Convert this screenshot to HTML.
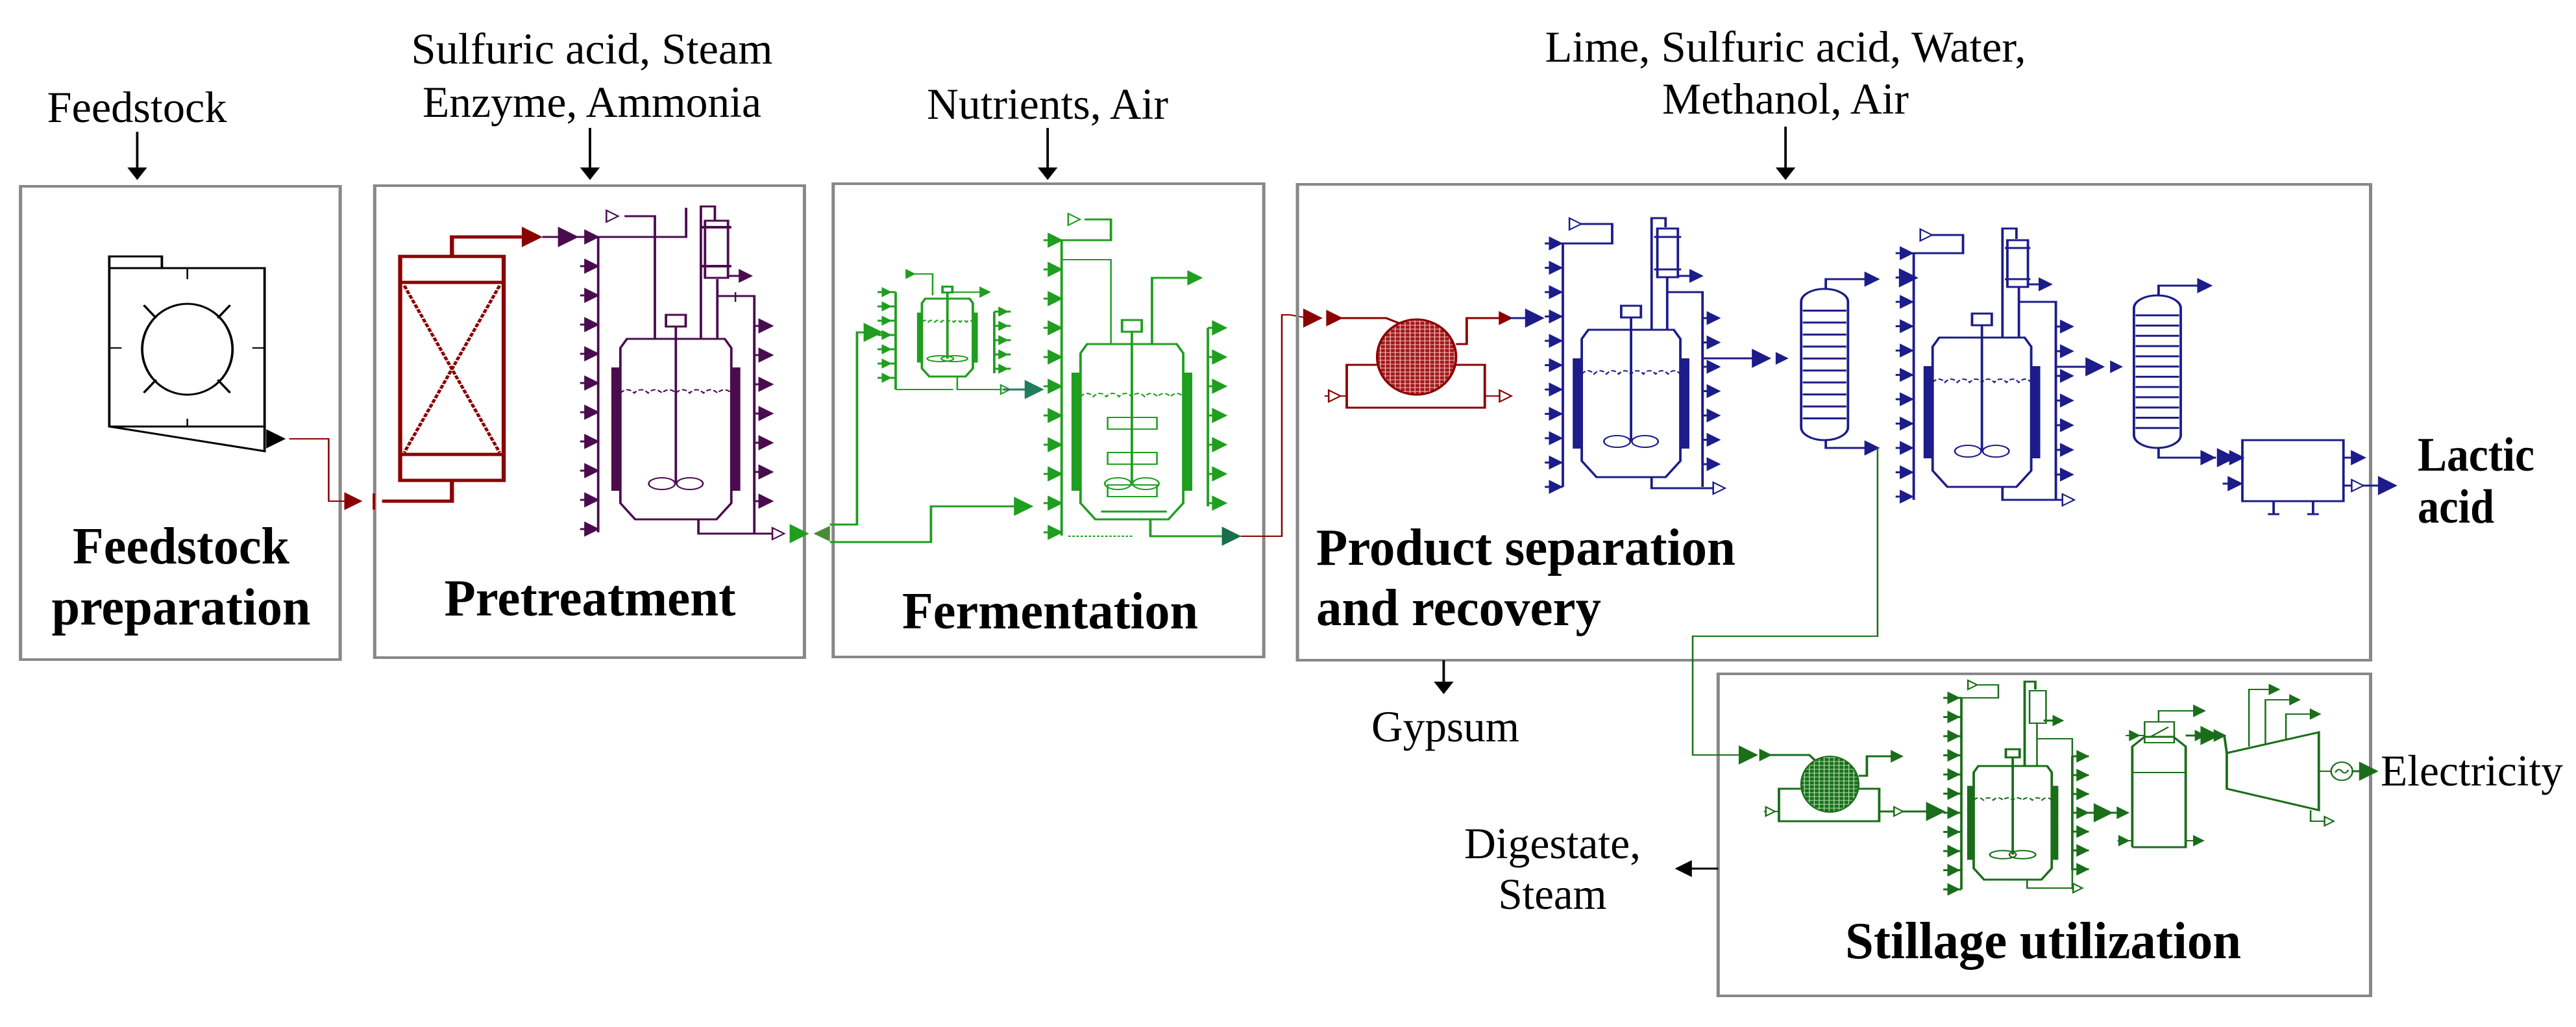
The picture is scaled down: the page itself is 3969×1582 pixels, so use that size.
<!DOCTYPE html>
<html><head><meta charset="utf-8"><style>
html,body{margin:0;padding:0;background:#fff;}
#wrap{position:relative;width:3969px;height:1582px;overflow:hidden;background:#fff;}
svg{position:absolute;left:0;top:0;}
text{font-family:"Liberation Serif",serif;fill:#000;}
.n{font-size:68px;}
.b{font-size:80px;font-weight:bold;}
</style></head><body>
<div id="wrap">
<svg id="g" width="3969" height="1582" viewBox="0 0 3135 1582" preserveAspectRatio="none"></svg>
<svg id="t" width="3969" height="1582" viewBox="0 0 3969 1582">
<text class="n" x="211" y="188" text-anchor="middle" textLength="277" lengthAdjust="spacingAndGlyphs">Feedstock</text>
<text class="n" x="912" y="98" text-anchor="middle" textLength="557" lengthAdjust="spacingAndGlyphs">Sulfuric acid, Steam</text>
<text class="n" x="912" y="180" text-anchor="middle" textLength="522" lengthAdjust="spacingAndGlyphs">Enzyme, Ammonia</text>
<text class="n" x="1614" y="183" text-anchor="middle" textLength="372" lengthAdjust="spacingAndGlyphs">Nutrients, Air</text>
<text class="n" x="2751" y="95" text-anchor="middle" textLength="741" lengthAdjust="spacingAndGlyphs">Lime, Sulfuric acid, Water,</text>
<text class="n" x="2751" y="175" text-anchor="middle" textLength="380" lengthAdjust="spacingAndGlyphs">Methanol, Air</text>
<text class="b" x="279" y="868" text-anchor="middle" textLength="334" lengthAdjust="spacingAndGlyphs">Feedstock</text>
<text class="b" x="279" y="962" text-anchor="middle" textLength="399" lengthAdjust="spacingAndGlyphs">preparation</text>
<text class="b" x="909" y="948" text-anchor="middle" textLength="449" lengthAdjust="spacingAndGlyphs">Pretreatment</text>
<text class="b" x="1618" y="968" text-anchor="middle" textLength="456" lengthAdjust="spacingAndGlyphs">Fermentation</text>
<text class="b" x="2028" y="870" textLength="646" lengthAdjust="spacingAndGlyphs">Product separation</text>
<text class="b" x="2028" y="963" textLength="439" lengthAdjust="spacingAndGlyphs">and recovery</text>
<text class="b" x="3725" y="725" style="font-size:74px" textLength="180" lengthAdjust="spacingAndGlyphs">Lactic</text>
<text class="b" x="3725" y="805" style="font-size:74px" textLength="118" lengthAdjust="spacingAndGlyphs">acid</text>
<text class="n" x="2227" y="1142" text-anchor="middle" textLength="228" lengthAdjust="spacingAndGlyphs">Gypsum</text>
<text class="n" x="2392" y="1322" text-anchor="middle" textLength="272" lengthAdjust="spacingAndGlyphs">Digestate,</text>
<text class="n" x="2392" y="1400" text-anchor="middle" textLength="167" lengthAdjust="spacingAndGlyphs">Steam</text>
<text class="n" x="3668" y="1210" textLength="281" lengthAdjust="spacingAndGlyphs">Electricity</text>
<text class="b" x="3148" y="1476" text-anchor="middle" textLength="610" lengthAdjust="spacingAndGlyphs">Stillage utilization</text>
</svg>
</div>
<script>
var s='';
var R='#8b0000',P='#4b0c4f',G='#1f9e1f',DG='#1a6e1a',B='#1c1c8a',K='#000',GR='#888';
function pl(pts,c,w){s+='<polyline points="'+pts+'" fill="none" stroke="'+c+'" stroke-width="'+(w||3)+'"/>';}
function rc(x,y,w,h,c,sw,f,rx){s+='<rect x="'+x+'" y="'+y+'" width="'+w+'" height="'+h+'" fill="'+(f||'none')+'" stroke="'+c+'" stroke-width="'+(sw||3)+'"'+(rx?' rx="'+rx+'"':'')+'/>';}
function ar(x,y,c,sz,open){sz=sz||12;s+='<path d="M'+x+','+(y-sz)+' L'+(x+sz*1.6)+','+y+' L'+x+','+(y+sz)+' Z" fill="'+(open?'#fff':c)+'" stroke="'+c+'" stroke-width="2"/>';}
function ard(x,y,c,sz){sz=sz||14;s+='<path d="M'+(x-sz)+','+y+' L'+x+','+(y+sz*1.6)+' L'+(x+sz)+','+y+' Z" fill="'+c+'"/>';}
function arl(x,y,c,sz){sz=sz||14;s+='<path d="M'+x+','+(y-sz)+' L'+(x-sz*1.6)+','+y+' L'+x+','+(y+sz)+' Z" fill="'+c+'"/>';}
function ln(x1,y1,x2,y2,c,w){s+='<line x1="'+x1+'" y1="'+y1+'" x2="'+x2+'" y2="'+y2+'" stroke="'+c+'" stroke-width="'+(w||3)+'"/>';}
function colL(x,y1,y2,step,c,sz){ln(x,y1,x,y2,c,3);for(var y=y1;y<=y2+1;y+=step){ln(x-22,y,x,y,c,3);ar(x-16,y,c,sz||9);}}
function colR(x,y1,y2,step,c,sz){ln(x,y1,x,y2,c,3);for(var y=y1;y<=y2+1;y+=step){ln(x,y,x+20,y,c,3);ar(x+6,y,c,sz||9);}}
function vessel(x,y,w,h,c,sc){sc=sc||1;
 s+='<path d="M'+(x+8*sc)+','+y+' H'+(x+w-8*sc)+' L'+(x+w)+','+(y+14*sc)+' V'+(y+h-25*sc)+' L'+(x+w-18*sc)+','+(y+h)+' H'+(x+18*sc)+' L'+x+','+(y+h-25*sc)+' V'+(y+14*sc)+' Z" fill="#fff" stroke="'+c+'" stroke-width="3"/>';
 rc(x-10*sc,y+45*sc,10*sc,h-90*sc,c,2,c);rc(x+w,y+45*sc,10*sc,h-90*sc,c,2,c);
 var cx=x+w/2;ln(cx,y-35*sc,cx,y+h-55*sc,c,3);rc(cx-12*sc,y-37*sc,24*sc,18*sc,c,3,'#fff');
 var wy=y+h*0.3;var d='M'+x+','+wy;for(var i=0;i<8;i++){d+=' q'+(w/16)+','+(-10*sc)+' '+(w/8)+',0';}s+='<path d="'+d+'" fill="none" stroke="'+c+'" stroke-width="2" stroke-dasharray="6 3"/>';
 s+='<ellipse cx="'+(cx-17*sc)+'" cy="'+(y+h-55*sc)+'" rx="16" ry="'+(9*sc)+'" fill="none" stroke="'+c+'" stroke-width="2"/><ellipse cx="'+(cx+17*sc)+'" cy="'+(y+h-55*sc)+'" rx="16" ry="'+(9*sc)+'" fill="none" stroke="'+c+'" stroke-width="2"/>';
}
function column(x,y,w,h,c,n){s+='<rect x="'+x+'" y="'+y+'" width="'+w+'" height="'+h+'" rx="'+(w/2)+'" ry="20" fill="#fff" stroke="'+c+'" stroke-width="3"/>';for(var i=1;i<n;i++){var yy=y+15+i*(h-30)/n;ln(x+2,yy,x+w-2,yy,c,3);}}
s+='<defs><pattern id="hr" width="6" height="6" patternUnits="userSpaceOnUse"><rect width="6" height="6" fill="#a01818"/><path d="M0,3H6M3,0V6" stroke="#f4c0c0" stroke-width="1"/></pattern><pattern id="hg" width="6" height="6" patternUnits="userSpaceOnUse"><rect width="6" height="6" fill="#1a6e1a"/><path d="M0,3H6M3,0V6" stroke="#b0e0b0" stroke-width="1"/></pattern></defs>';
rc(25,287,389,729,GR,4);rc(456,286,523,727,GR,4);rc(1014,283,524,729,GR,4);
ln(167,203,167,262,K,3);ard(167,258,K,12);
ln(718,197,718,262,K,3);ard(718,258,K,12);
ln(1275,197,1275,262,K,3);ard(1275,258,K,12);
rc(133,395,64,18,K,3);
pl('133,413 322,413 322,695 133,657 133,413',K,3);ln(133,657,322,657,K,3);
s+='<ellipse cx="228" cy="538" rx="55" ry="70" fill="none" stroke="'+K+'" stroke-width="3"/>';
ln(175,470,190,490,K,3);ln(280,470,265,490,K,3);ln(175,605,190,585,K,3);ln(280,605,265,585,K,3);
ln(228,413,228,430,K,2);ln(133,536,148,536,K,2);ln(322,536,307,536,K,2);ln(228,657,228,645,K,2);
ar(325,676,K,13);
pl('352,676 400,676 400,772 420,772',R,2);ar(420,772,R,12);ln(455,760,455,785,R,3);
pl('465,772 550,772 550,740',R,5);
rc(487,395,126,345,R,5);ln(487,435,613,435,R,5);ln(487,700,613,700,R,5);
s+='<path d="M492,440 L608,697 M608,440 L492,697" stroke="'+R+'" stroke-width="4" stroke-dasharray="6 2"/>';
pl('550,395 550,365 640,365',R,5);ar(636,365,R,14);
ln(660,365,728,365,P,3);ar(680,365,P,14);
colL(728,365,820,45,P,10);
pl('728,365 835,365 835,320',P,3);pl('760,333 797,333 797,522',P,3);ar(738,333,P,9,true);
pl('853,522 853,318 870,318 870,340',P,3);rc(858,340,28,88,P,3);ln(853,350,890,350,P,4);ln(853,410,890,410,P,4);
ln(886,425,905,425,P,3);ar(900,425,P,9);
pl('873,430 873,522',P,3);pl('873,456 918,456 918,822',P,3);ln(895,450,895,465,P,2);
colR(918,502,775,45,P,10);
vessel(755,522,135,278,P);
pl('850,800 850,822 940,822',P,3);ar(940,822,P,9,true);
ar(962,822,G,13);s+='<path d="M1010,810 L990,822 L1010,834 Z" fill="#4a8a3a"/>';
pl('1010,808 1043,808 1043,512 1055,512',G,3);ar(1052,512,G,13);
pl('1010,835 1133,835 1133,780 1235,780',G,3);ar(1235,780,G,13);
colL(1090,450,600,22,G,6);ln(1090,600,1160,600,G,2);
pl('1105,422 1135,422 1135,455',G,2);ar(1103,422,G,6);
vessel(1122,460,62,120,G,0.5);
pl('1160,450 1195,450',G,2);ar(1193,450,G,7);
colR(1210,480,575,22,G,6);
pl('1165,580 1165,600 1220,600',G,2);ar(1218,600,G,7,true);
ln(1220,600,1250,600,'#1f7e5e',3);ar(1248,600,'#1f7e5e',13);
colL(1292,370,825,45,G,10);
pl('1292,370 1352,370 1352,338 1320,338',G,3);ar(1300,338,G,9,true);
pl('1292,400 1352,400 1352,530',G,2);
pl('1402,530 1402,428 1450,428',G,3);ar(1446,428,G,10);
vessel(1315,530,125,270,G);
rc(1348,643,60,18,G,2);rc(1348,697,60,18,G,2);rc(1348,747,60,18,G,2);
ln(1340,788,1420,788,G,3);
colR(1470,505,780,45,G,10);
pl('1400,800 1400,826 1490,826',G,3);ar(1488,826,'#1a6e4a',13);
s+='<line x1="1300" y1="826" x2="1380" y2="826" stroke="'+G+'" stroke-width="2" stroke-dasharray="3 2"/>';
pl('1510,826 1560,826 1560,485 1570,485 1592,490',R,2);
s+='<g transform="translate(-33,0)">';
rc(1612,284,1306,733,GR,4);rc(2124,1038,794,496,GR,4);
ln(2206,195,2206,262,K,3);ard(2206,258,K,12);
ln(1790,1017,1790,1055,K,3);ard(1790,1050,K,12);
ln(2124,1338,2090,1338,K,3);arl(2092,1338,K,13);
ar(1620,490,R,13);ar(1648,490,R,11);
pl('1660,490 1720,490 1740,500',R,3);
s+='<ellipse cx="1757" cy="550" rx="48" ry="58" fill="url(#hr)" stroke="'+R+'" stroke-width="3"/>';
pl('1805,530 1818,530 1818,490 1862,490',R,3);ar(1858,490,R,9);
pl('1710,562 1672,562 1672,628 1840,628 1840,562 1805,562',R,3);
ln(1645,610,1672,610,R,2);ar(1650,610,R,9,true);ln(1840,610,1865,610,R,2);ar(1858,610,R,9,true);
ln(1870,490,1910,490,B,3);ar(1890,490,B,13);
colL(1935,375,750,37.5,B,9);
pl('1935,375 1995,375 1995,345 1950,345',B,3);ar(1943,345,B,9,true);
pl('2043,508 2043,336 2060,336 2060,350',B,3);rc(2050,352,25,75,B,3);ln(2046,365,2079,365,B,3);ln(2046,415,2079,415,B,3);
ln(2075,425,2095,425,B,3);ar(2090,425,B,9);
pl('2062,427 2062,508',B,3);pl('2062,450 2105,450 2105,750',B,3);
colR(2105,490,715,37.5,B,9);
vessel(1958,508,120,227,B);
pl('2043,735 2043,752 2120,752',B,3);ar(2118,752,B,9,true);
pl('2105,552 2130,552 2170,552',B,3);ar(2166,552,B,13);ar(2195,552,B,8);
column(2225,445,57,233,B,11);
pl('2255,445 2255,430 2305,430',B,3);ar(2303,430,B,10);
pl('2255,678 2255,690 2305,690',B,3);ar(2303,690,B,10);
pl('2318,690 2318,980 2093,980 2093,1163 2150,1163',DG,2);
colL(2362,390,770,37.5,B,9);
pl('2362,390 2422,390 2422,362 2378,362',B,3);ar(2370,362,B,9,true);
ar(2345,428,B,13);
pl('2470,520 2470,352 2487,352 2487,368',B,3);rc(2476,370,25,72,B,3);ln(2473,382,2504,382,B,3);ln(2473,430,2504,430,B,3);
ln(2500,438,2520,438,B,3);ar(2515,438,B,9);
pl('2490,442 2490,520',B,3);pl('2490,465 2535,465 2535,770',B,3);
colR(2535,503,733,38,B,9);
vessel(2385,520,120,230,B);
pl('2470,750 2470,770 2545,770',B,3);ar(2543,770,B,9,true);
pl('2535,565 2550,565 2585,565',B,3);ar(2572,565,B,13);ar(2602,565,B,8);
column(2630,455,57,235,B,13);
pl('2660,455 2660,440 2710,440',B,3);ar(2708,440,B,10);
pl('2660,690 2660,705 2730,705',B,3);ar(2712,705,B,10);ar(2732,705,B,13);ar(2747,705,B,10);
ln(2738,745,2760,745,B,3);ar(2745,745,B,10);
rc(2762,678,123,94,B,3);ln(2800,772,2800,792,B,3);ln(2793,792,2807,792,B,3);ln(2848,772,2848,792,B,3);ln(2841,792,2855,792,B,3);
ln(2885,705,2905,705,B,3);ar(2895,705,B,10);ln(2885,748,2935,748,B,3);ar(2895,748,B,9,true);ar(2928,748,B,13);
ar(2150,1163,DG,13);ar(2175,1163,DG,8);
pl('2185,1163 2235,1163 2245,1175',DG,3);
s+='<ellipse cx="2260" cy="1208" rx="35" ry="43" fill="url(#hg)" stroke="'+DG+'" stroke-width="2"/>';
pl('2295,1195 2305,1195 2305,1165 2340,1165',DG,3);ar(2335,1165,DG,8);
pl('2228,1215 2198,1215 2198,1265 2320,1265 2320,1215 2295,1215',DG,3);
ln(2180,1250,2198,1250,DG,2);ar(2182,1250,DG,7,true);ln(2320,1250,2390,1250,DG,3);ar(2338,1250,DG,7,true);ar(2378,1250,DG,13);
colL(2420,1075,1370,29.5,DG,8);
pl('2420,1075 2465,1075 2465,1055 2428,1055',DG,2);ar(2428,1055,DG,7,true);
pl('2497,1180 2497,1050 2510,1050 2510,1062',DG,3);rc(2503,1064,20,50,DG,2);ln(2520,1110,2540,1110,DG,3);ar(2532,1110,DG,7);
pl('2512,1114 2512,1180',DG,2);pl('2512,1138 2555,1138 2555,1370',DG,2);
colR(2555,1165,1340,29,DG,8);
vessel(2435,1180,95,175,DG,0.7);
pl('2500,1355 2500,1368 2560,1368',DG,2);ar(2556,1368,DG,7,true);
ln(2560,1252,2610,1252,DG,3);ar(2582,1252,DG,13);ar(2610,1252,DG,8);
pl('2628,1305 2628,1150 2643,1135 2678,1135 2693,1150 2693,1305 2628,1305',DG,3);ln(2628,1190,2693,1190,DG,2);
rc(2643,1112,36,32,DG,2);ln(2650,1135,2672,1120,DG,2);
pl('2660,1112 2660,1095 2705,1095',DG,2);ar(2703,1095,DG,8);
ln(2620,1133,2643,1133,DG,2);ar(2625,1133,DG,7);
ln(2693,1133,2740,1133,DG,3);ar(2705,1133,DG,7);ar(2712,1133,DG,13);ar(2728,1133,DG,8);
ln(2610,1295,2628,1295,DG,2);ar(2612,1295,DG,7);ln(2693,1295,2710,1295,DG,2);ar(2703,1295,DG,7);
pl('2740,1133 2743,1160',DG,3);
s+='<path d="M2743,1160 L2855,1128 L2855,1248 L2743,1215 Z" fill="#fff" stroke="'+DG+'" stroke-width="3"/>';
pl('2770,1150 2770,1062 2800,1062',DG,2);ar(2795,1062,DG,7);
pl('2790,1145 2790,1078 2825,1078',DG,2);ar(2820,1078,DG,7);
pl('2815,1138 2815,1100 2850,1100',DG,2);ar(2845,1100,DG,7);
pl('2845,1248 2845,1265 2868,1265',DG,2);ar(2862,1265,DG,7,true);
ln(2855,1188,2870,1188,DG,2);
s+='<ellipse cx="2883" cy="1188" rx="13" ry="14" fill="#fff" stroke="'+DG+'" stroke-width="2"/><path d="M2875,1190 q4,-8 8,-2 q4,6 8,-2" fill="none" stroke="'+DG+'" stroke-width="2"/>';
ln(2896,1188,2920,1188,DG,3);ar(2905,1188,DG,13);
s+='</g>';
document.getElementById('g').innerHTML=s;
</script>
</body></html>
